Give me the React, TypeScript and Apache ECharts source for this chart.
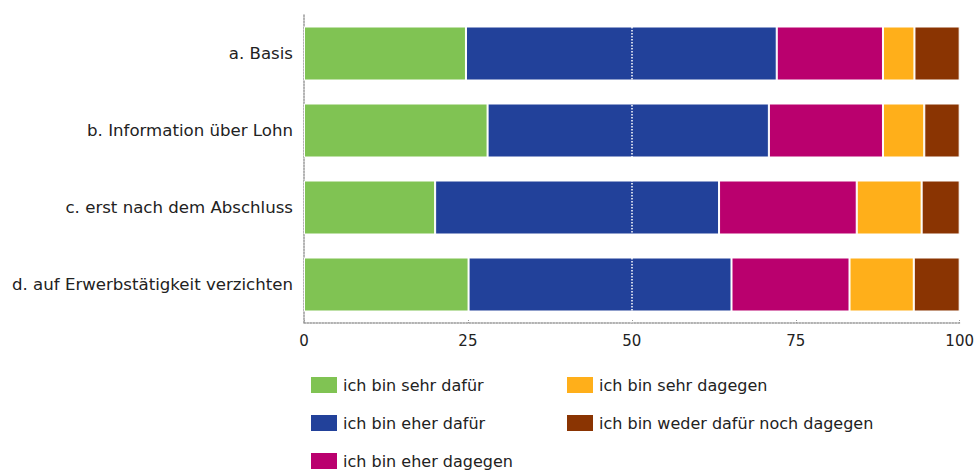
import React, { useEffect, useRef } from "react";
import * as echarts from "echarts";

const categories = [
  "a. Basis",
  "b. Information über Lohn",
  "c. erst nach dem Abschluss",
  "d. auf Erwerbstätigkeit verzichten",
];
const seriesNames = [
  "ich bin sehr dafür",
  "ich bin eher dafür",
  "ich bin eher dagegen",
  "ich bin sehr dagegen",
  "ich bin weder dafür noch dagegen",
];
const sehrDafuer = [24.7, 28.0, 20.0, 25.1];
const eherDafuer = [47.4, 42.9, 43.3, 40.1];
const eherDagegen = [16.2, 17.4, 21.0, 18.0];
const sehrDagegen = [4.8, 6.3, 9.9, 9.8];
const weder = [6.9, 5.4, 5.8, 7.0];
const colors = ["#80C353", "#22419A", "#BA006E", "#FFAF1A", "#8A3402"];
const xTicks = [0, 25, 50, 75, 100];

export default function App() {
  const ref = useRef<HTMLDivElement>(null);
  useEffect(() => {
    document.body.style.margin = "0";
    const chart = echarts.init(ref.current!, undefined, { renderer: "svg" });
    const values = [sehrDafuer, eherDafuer, eherDagegen, sehrDagegen, weder];
    const font = "'DejaVu Sans', sans-serif";
    const legendBase = {
      orient: "vertical",
      top: 375,
      height: 120,
      padding: 0,
      itemWidth: 28,
      itemHeight: 18,
      itemGap: 18,
      icon: "rect",
      textStyle: { color: "#222", fontSize: 16, fontFamily: font, lineHeight: 18 },
      selectedMode: false,
    };
    chart.setOption({
      animation: false,
      grid: { left: 304, right: 15, top: 15, bottom: 148 },
      xAxis: {
        type: "value",
        min: xTicks[0],
        max: xTicks[xTicks.length - 1],
        interval: 25,
        axisLine: { show: true, lineStyle: { color: "#999", type: "dotted", width: 1.5 } },
        axisTick: { show: true, inside: true, length: 4, lineStyle: { color: "#999", type: "dotted" } },
        splitLine: { show: false },
        axisLabel: { color: "#222", fontSize: 15, fontFamily: font, margin: 10 },
      },
      yAxis: {
        type: "category",
        data: categories,
        inverse: true,
        axisLine: { show: true, lineStyle: { color: "#999", type: "dotted", width: 1.5 } },
        axisTick: { show: false },
        axisLabel: { color: "#222", fontSize: 16.6, fontFamily: font, margin: 11 },
      },
      legend: [
        { ...legendBase, data: seriesNames.slice(0, 3), left: 309 },
        { ...legendBase, data: seriesNames.slice(3), left: 565 },
      ],
      series: seriesNames.map((name, i) => ({
        name,
        type: "bar",
        stack: "total",
        barWidth: 54,
        data: values[i],
        itemStyle: { color: colors[i], borderColor: "#fff", borderWidth: 1 },
        ...(i === seriesNames.length - 1
          ? {
              markLine: {
                silent: true,
                symbol: "none",
                label: { show: false },
                lineStyle: { color: "#fff", type: "dotted", width: 1.5 },
                data: [{ xAxis: 50 }],
                z: 10,
              },
            }
          : {}),
      })),
    });
    return () => chart.dispose();
  }, []);
  return <div ref={ref} style={{ width: 977, height: 471 }} />;
}
